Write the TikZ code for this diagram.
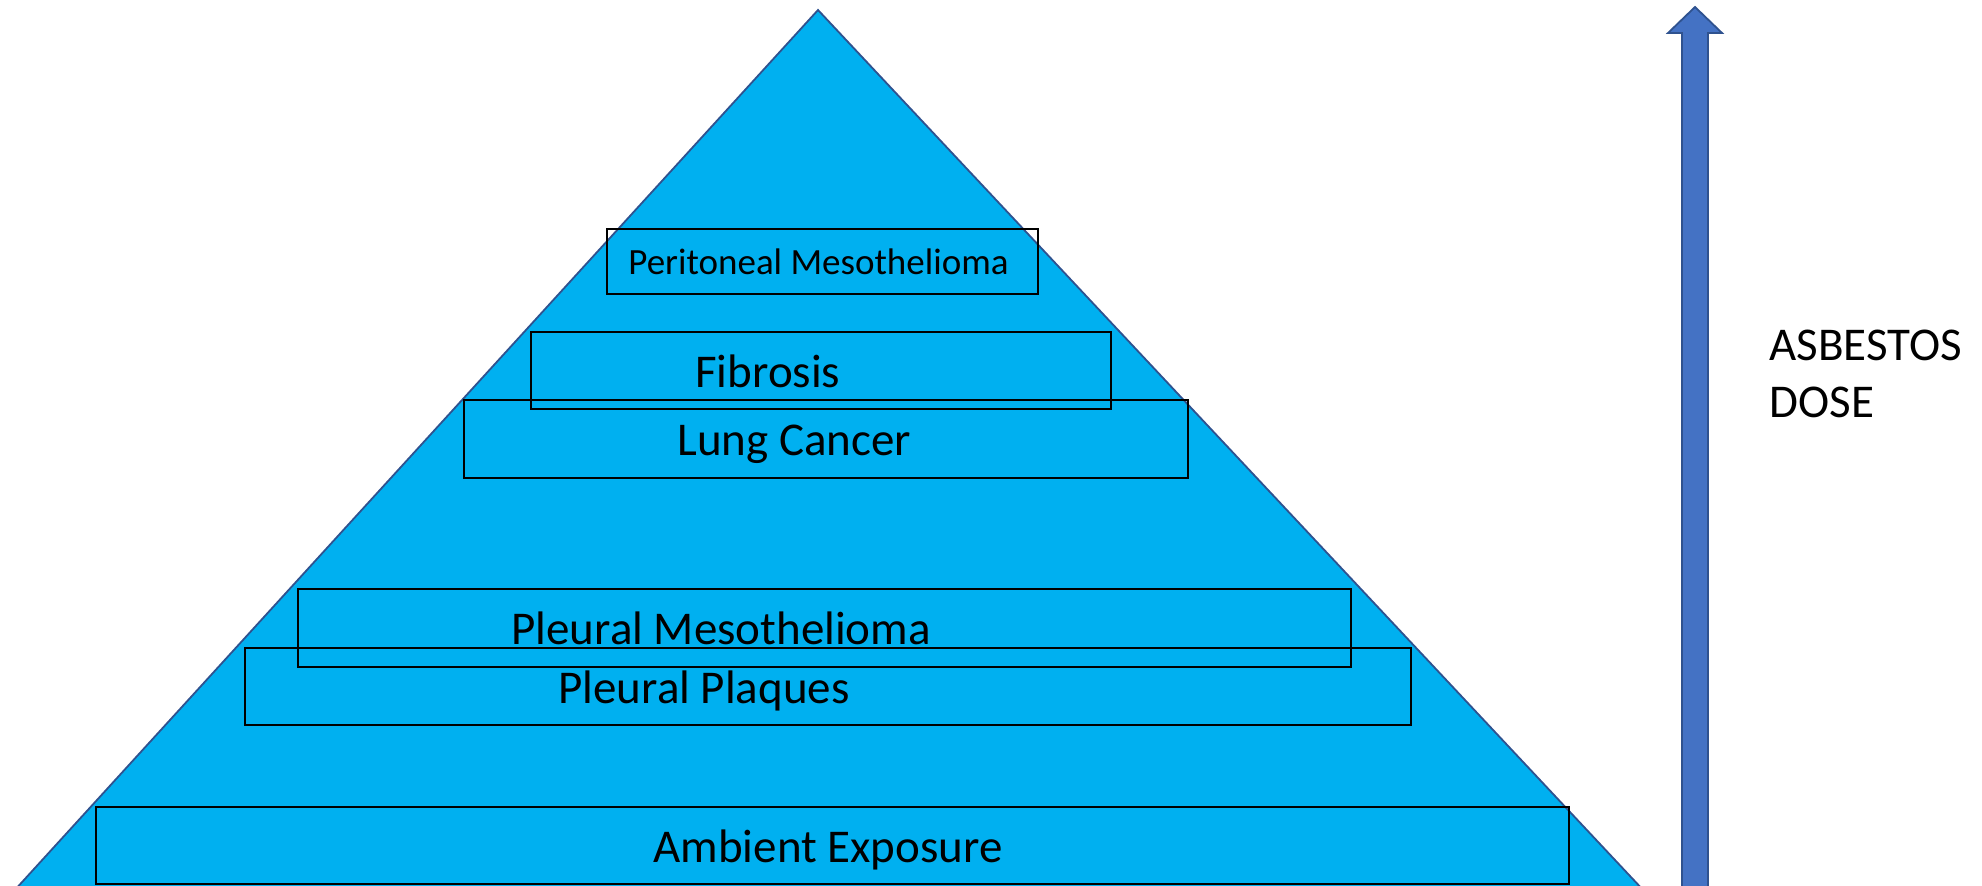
\documentclass[tikz,border=0pt]{standalone}
\usepackage{fontspec}
\setmainfont{Carlito}
\definecolor{pyr}{HTML}{00B0F0}
\definecolor{pyredge}{RGB}{47,82,143}
\definecolor{arrfill}{HTML}{4472C4}
\tikzset{
  layerbox/.style={draw=black, line width=0.9pt},
  lbl/.style={inner sep=0pt, anchor=base west, font=\fontsize{23.5}{28.3}\selectfont},
  smalllbl/.style={inner sep=0pt, anchor=base west, font=\fontsize{18.5}{22}\selectfont},
}
\begin{document}
\begin{tikzpicture}[x=0.5pt,y=-0.5pt]
\useasboundingbox (0,0) rectangle (1982,885);
\clip (0,0) rectangle (1982,885);
% pyramid
\coordinate (apex) at (818,10);
\coordinate (bl) at (13,892);
\coordinate (br) at (1645,892);
\draw[fill=pyr, draw=pyredge, line width=0.9pt] (apex) -- (br) -- (bl) -- cycle;
% layer boxes
\draw[layerbox] (607,229) rectangle (1038,294);
\draw[layerbox] (531,332) rectangle (1111,409);
\draw[layerbox] (464,400) rectangle (1188,478);
\draw[layerbox] (298,589) rectangle (1351,667);
\draw[layerbox] (245,648) rectangle (1411,725);
\draw[layerbox] (96,807) rectangle (1569,884);
% labels
\node[smalllbl] (peri) at (628,274) {Peritoneal Mesothelioma};
\node[lbl] (fib) at (695,387) {Fibrosis};
\node[lbl] (lung) at (677,455) {Lung Cancer};
\node[lbl] (pmeso) at (511,644) {Pleural Mesothelioma};
\node[lbl] (pplaq) at (558,703) {Pleural Plaques};
\node[lbl] (amb) at (653,862) {Ambient Exposure};
% dose arrow
\draw[fill=arrfill, draw=pyredge, line width=0.9pt]
  (1682,892) -- (1682,33) -- (1668,33) -- (1695,7) -- (1722,33) -- (1708,33) -- (1708,892) -- cycle;
\node[lbl] (dose1) at (1769,360) {ASBESTOS};
\node[lbl] (dose2) at (1769,417) {DOSE};
\end{tikzpicture}
\end{document}
